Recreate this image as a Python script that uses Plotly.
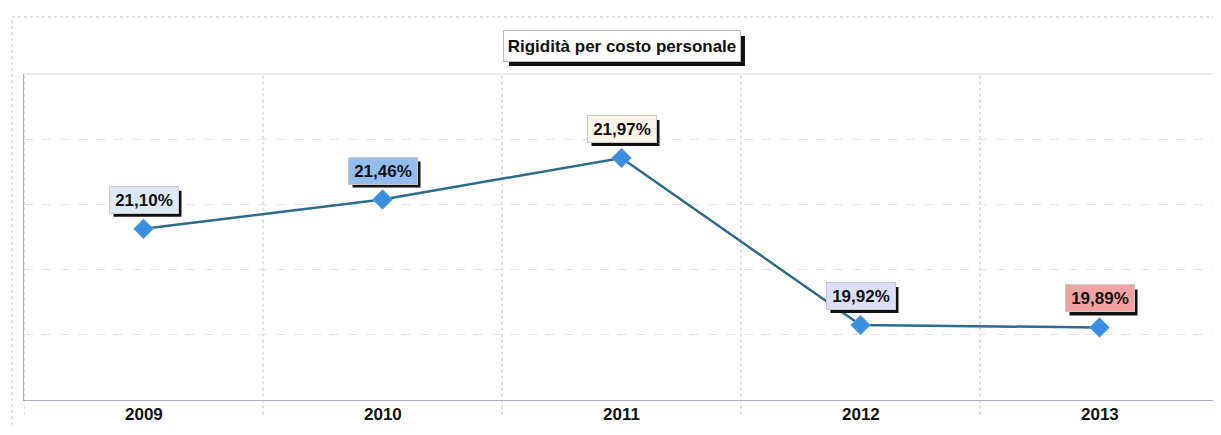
import plotly.graph_objects as go

years = ["2009", "2010", "2011", "2012", "2013"]
values = [21.10, 21.46, 21.97, 19.92, 19.89]
labels = ["21,10%", "21,46%", "21,97%", "19,92%", "19,89%"]
label_colors = ["#dde9f6", "#93bdee", "#fcf3e9", "#dedff6", "#f3a2a2"]
title_text = "Rigidità per costo personale"

FONT = "Liberation Sans, Arial, sans-serif"
LBL_W, LBL_H, LBL_SHIFT, SH = 68, 26, 29, 3
TTL_W, TTL_H = 236, 30

fig = go.Figure()
fig.add_trace(go.Scatter(
    x=list(range(len(years))), y=values, mode="lines+markers",
    line=dict(color="#2d6a8c", width=2.5),
    marker=dict(symbol="diamond", size=15, color="#3a8ee0",
                line=dict(color="#5aa4ea", width=1)),
    hoverinfo="skip", showlegend=False,
))

annotations = []
shapes = []
for i, (v, t, c) in enumerate(zip(values, labels, label_colors)):
    shapes.append(dict(
        type="rect", xref="x", yref="y", xsizemode="pixel", ysizemode="pixel",
        xanchor=i, yanchor=v,
        x0=-LBL_W / 2 + SH + 1, x1=LBL_W / 2 + SH + 1,
        y0=LBL_SHIFT - LBL_H / 2 - SH - 1, y1=LBL_SHIFT + LBL_H / 2 - SH - 1,
        fillcolor="#111111", line=dict(width=0), layer="above",
    ))
    annotations.append(dict(
        x=i, y=v, xref="x", yref="y", text="<b>%s</b>" % t, showarrow=False,
        font=dict(family=FONT, size=17, color="#111111"),
        bgcolor=c, bordercolor="#c8c8c8", borderwidth=1, borderpad=0,
        width=LBL_W, height=LBL_H, yshift=LBL_SHIFT,
    ))

for i, t in enumerate(years):
    annotations.append(dict(
        x=i, y=0, xref="x", yref="paper", text="<b>%s</b>" % t, showarrow=False,
        font=dict(family=FONT, size=17, color="#111111"),
        yanchor="middle", yshift=-14,
    ))

# title box with shadow
TX, TY = 0.5004, 1.086
shapes.append(dict(
    type="rect", xref="paper", yref="paper", xsizemode="pixel", ysizemode="pixel",
    xanchor=TX, yanchor=TY,
    x0=-TTL_W / 2 + 5, x1=TTL_W / 2 + 5, y0=-TTL_H / 2 - 5, y1=TTL_H / 2 - 5,
    fillcolor="#111111", line=dict(width=0), layer="above",
))
annotations.append(dict(
    x=TX, y=TY, xref="paper", yref="paper", text="<b>%s</b>" % title_text,
    showarrow=False, font=dict(family=FONT, size=17, color="#111111"),
    bgcolor="white", bordercolor="#bbbbbb", borderwidth=1, borderpad=0,
    width=TTL_W, height=TTL_H, xanchor="center", yanchor="middle",
))

for b in [-0.5, 0.5, 1.5, 2.5, 3.5]:
    shapes.append(dict(type="line", xref="x", yref="paper", x0=b, x1=b,
                       y0=-0.045, y1=1, line=dict(color="#b8bcc8", width=1, dash="dot"),
                       layer="below"))
# outer frame
shapes.append(dict(type="rect", xref="paper", yref="paper",
                   x0=-0.01, x1=1.005, y0=-0.098, y1=1.175,
                   line=dict(color="#c4c4c4", width=1, dash="dot"), layer="below"))
shapes.append(dict(type="line", xref="paper", yref="paper", x0=0, x1=1, y0=1, y1=1,
                   line=dict(color="#d8d8e0", width=1), layer="below"))
shapes.append(dict(type="line", xref="paper", yref="paper", x0=1, x1=1, y0=0, y1=1,
                   line=dict(color="#a9aec0", width=1), layer="below"))

fig.update_layout(
    width=1213, height=419,
    margin=dict(l=16, r=2, t=66, b=27),
    paper_bgcolor="white", plot_bgcolor="white",
    xaxis=dict(range=[-0.5, 4.5], showgrid=False, zeroline=False,
               showticklabels=False, showline=True, linecolor="#a9aec0",
               fixedrange=True),
    yaxis=dict(range=[19, 23], dtick=0.8, tick0=19, showgrid=True,
               gridcolor="#e2e2e2", griddash="dash", zeroline=False,
               showticklabels=False, showline=True, linecolor="#a9aec0",
               fixedrange=True),
    annotations=annotations, shapes=shapes,
)

fig.write_html("out.html")
